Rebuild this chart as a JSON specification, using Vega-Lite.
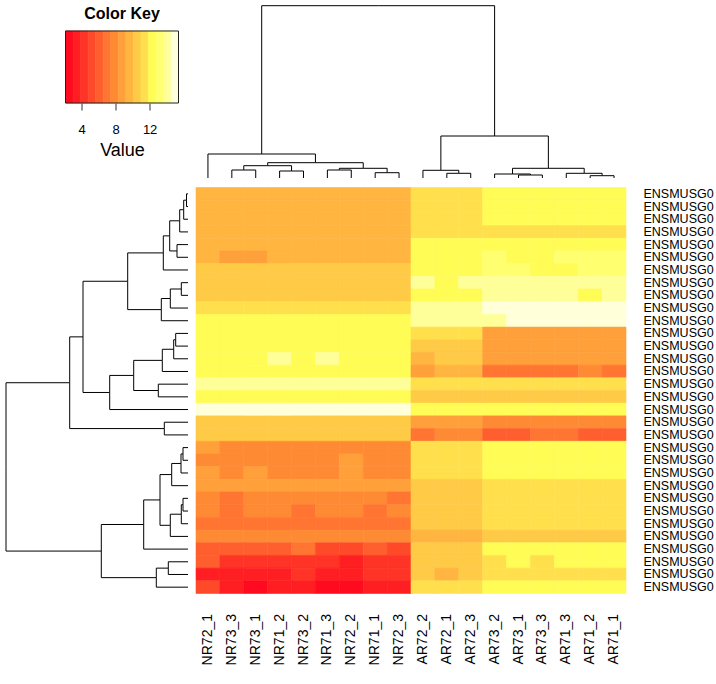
{
  "$schema": "https://vega.github.io/schema/vega-lite/v6.json",
  "padding": {"left": 5, "top": 5, "right": 0, "bottom": 0},
  "config": {
    "view": {"stroke": null},
    "font": "Liberation Sans",
    "axis": {"labelColor": "#000", "titleColor": "#000", "grid": false}
  },
  "datasets": {
    "expr": [
      {"gene":"ENSMUSG0_01","NR72_1":9.6,"NR73_3":9.6,"NR73_1":9.6,"NR71_2":9.6,"NR73_2":9.6,"NR71_3":9.6,"NR72_2":9.6,"NR71_1":9.6,"NR72_3":9.6,"AR72_2":11.4,"AR72_1":11.4,"AR72_3":11.4,"AR73_2":12.3,"AR73_1":12.3,"AR73_3":12.3,"AR71_3":12.3,"AR71_2":12.3,"AR71_1":12.3},
      {"gene":"ENSMUSG0_02","NR72_1":9.6,"NR73_3":9.6,"NR73_1":9.6,"NR71_2":9.6,"NR73_2":9.6,"NR71_3":9.6,"NR72_2":9.6,"NR71_1":9.6,"NR72_3":9.6,"AR72_2":11.4,"AR72_1":11.4,"AR72_3":11.4,"AR73_2":12.3,"AR73_1":12.3,"AR73_3":12.3,"AR71_3":12.3,"AR71_2":12.3,"AR71_1":12.3},
      {"gene":"ENSMUSG0_03","NR72_1":9.6,"NR73_3":9.6,"NR73_1":9.6,"NR71_2":9.6,"NR73_2":9.6,"NR71_3":9.6,"NR72_2":9.6,"NR71_1":9.6,"NR72_3":9.6,"AR72_2":11.4,"AR72_1":11.4,"AR72_3":11.4,"AR73_2":12.3,"AR73_1":12.3,"AR73_3":12.3,"AR71_3":12.3,"AR71_2":12.3,"AR71_1":12.3},
      {"gene":"ENSMUSG0_04","NR72_1":9.6,"NR73_3":9.6,"NR73_1":9.6,"NR71_2":9.6,"NR73_2":9.6,"NR71_3":9.6,"NR72_2":9.6,"NR71_1":9.6,"NR72_3":9.6,"AR72_2":11.4,"AR72_1":11.4,"AR72_3":11.4,"AR73_2":11.4,"AR73_1":11.4,"AR73_3":11.4,"AR71_3":11.4,"AR71_2":11.4,"AR71_1":11.4},
      {"gene":"ENSMUSG0_05","NR72_1":9.6,"NR73_3":9.6,"NR73_1":9.6,"NR71_2":9.6,"NR73_2":9.6,"NR71_3":9.6,"NR72_2":9.6,"NR71_1":9.6,"NR72_3":9.6,"AR72_2":12.3,"AR72_1":12.3,"AR72_3":12.3,"AR73_2":12.3,"AR73_1":12.3,"AR73_3":12.3,"AR71_3":12.3,"AR71_2":12.3,"AR71_1":12.3},
      {"gene":"ENSMUSG0_06","NR72_1":9.6,"NR73_3":8.8,"NR73_1":8.8,"NR71_2":9.6,"NR73_2":9.6,"NR71_3":9.6,"NR72_2":9.6,"NR71_1":9.6,"NR72_3":9.6,"AR72_2":12.3,"AR72_1":12.3,"AR72_3":12.3,"AR73_2":13.2,"AR73_1":12.3,"AR73_3":12.3,"AR71_3":13.2,"AR71_2":13.2,"AR71_1":13.2},
      {"gene":"ENSMUSG0_07","NR72_1":10.5,"NR73_3":10.5,"NR73_1":10.5,"NR71_2":10.5,"NR73_2":10.5,"NR71_3":10.5,"NR72_2":10.5,"NR71_1":10.5,"NR72_3":10.5,"AR72_2":12.3,"AR72_1":12.3,"AR72_3":12.3,"AR73_2":13.2,"AR73_1":13.2,"AR73_3":12.3,"AR71_3":12.3,"AR71_2":13.2,"AR71_1":13.2},
      {"gene":"ENSMUSG0_08","NR72_1":10.5,"NR73_3":10.5,"NR73_1":10.5,"NR71_2":10.5,"NR73_2":10.5,"NR71_3":10.5,"NR72_2":10.5,"NR71_1":10.5,"NR72_3":10.5,"AR72_2":14.1,"AR72_1":12.3,"AR72_3":14.1,"AR73_2":14.1,"AR73_1":14.1,"AR73_3":14.1,"AR71_3":14.1,"AR71_2":14.1,"AR71_1":14.1},
      {"gene":"ENSMUSG0_09","NR72_1":10.5,"NR73_3":10.5,"NR73_1":10.5,"NR71_2":10.5,"NR73_2":10.5,"NR71_3":10.5,"NR72_2":10.5,"NR71_1":10.5,"NR72_3":10.5,"AR72_2":12.3,"AR72_1":12.3,"AR72_3":12.3,"AR73_2":14.1,"AR73_1":14.1,"AR73_3":14.1,"AR71_3":14.1,"AR71_2":12.3,"AR71_1":14.1},
      {"gene":"ENSMUSG0_10","NR72_1":11.4,"NR73_3":11.4,"NR73_1":11.4,"NR71_2":11.4,"NR73_2":11.4,"NR71_3":11.4,"NR72_2":11.4,"NR71_1":11.4,"NR72_3":11.4,"AR72_2":14.1,"AR72_1":14.1,"AR72_3":14.1,"AR73_2":15.0,"AR73_1":15.0,"AR73_3":15.0,"AR71_3":15.0,"AR71_2":15.0,"AR71_1":15.0},
      {"gene":"ENSMUSG0_11","NR72_1":12.3,"NR73_3":12.3,"NR73_1":12.3,"NR71_2":12.3,"NR73_2":12.3,"NR71_3":12.3,"NR72_2":12.3,"NR71_1":12.3,"NR72_3":12.3,"AR72_2":14.1,"AR72_1":14.1,"AR72_3":14.1,"AR73_2":14.1,"AR73_1":15.0,"AR73_3":15.0,"AR71_3":15.0,"AR71_2":15.0,"AR71_1":15.0},
      {"gene":"ENSMUSG0_12","NR72_1":12.3,"NR73_3":12.3,"NR73_1":12.3,"NR71_2":12.3,"NR73_2":12.3,"NR71_3":12.3,"NR72_2":12.3,"NR71_1":12.3,"NR72_3":12.3,"AR72_2":11.4,"AR72_1":11.4,"AR72_3":11.4,"AR73_2":8.8,"AR73_1":8.8,"AR73_3":8.8,"AR71_3":8.8,"AR71_2":8.8,"AR71_1":8.8},
      {"gene":"ENSMUSG0_13","NR72_1":12.3,"NR73_3":12.3,"NR73_1":12.3,"NR71_2":12.3,"NR73_2":12.3,"NR71_3":12.3,"NR72_2":12.3,"NR71_1":12.3,"NR72_3":12.3,"AR72_2":10.5,"AR72_1":10.5,"AR72_3":10.5,"AR73_2":8.8,"AR73_1":8.8,"AR73_3":8.8,"AR71_3":8.8,"AR71_2":8.8,"AR71_1":8.8},
      {"gene":"ENSMUSG0_14","NR72_1":12.3,"NR73_3":12.3,"NR73_1":12.3,"NR71_2":14.1,"NR73_2":12.3,"NR71_3":14.1,"NR72_2":12.3,"NR71_1":12.3,"NR72_3":12.3,"AR72_2":9.6,"AR72_1":10.5,"AR72_3":10.5,"AR73_2":8.8,"AR73_1":8.8,"AR73_3":8.8,"AR71_3":8.8,"AR71_2":8.8,"AR71_1":8.8},
      {"gene":"ENSMUSG0_15","NR72_1":12.3,"NR73_3":12.3,"NR73_1":12.3,"NR71_2":12.3,"NR73_2":12.3,"NR71_3":12.3,"NR72_2":12.3,"NR71_1":12.3,"NR72_3":12.3,"AR72_2":8.8,"AR72_1":9.6,"AR72_3":9.6,"AR73_2":7.0,"AR73_1":7.0,"AR73_3":7.0,"AR71_3":7.0,"AR71_2":7.9,"AR71_1":7.0},
      {"gene":"ENSMUSG0_16","NR72_1":14.1,"NR73_3":14.1,"NR73_1":14.1,"NR71_2":14.1,"NR73_2":14.1,"NR71_3":14.1,"NR72_2":14.1,"NR71_1":14.1,"NR72_3":14.1,"AR72_2":11.4,"AR72_1":11.4,"AR72_3":11.4,"AR73_2":11.4,"AR73_1":11.4,"AR73_3":11.4,"AR71_3":11.4,"AR71_2":11.4,"AR71_1":11.4},
      {"gene":"ENSMUSG0_17","NR72_1":12.3,"NR73_3":12.3,"NR73_1":12.3,"NR71_2":12.3,"NR73_2":12.3,"NR71_3":12.3,"NR72_2":12.3,"NR71_1":12.3,"NR72_3":12.3,"AR72_2":10.5,"AR72_1":10.5,"AR72_3":10.5,"AR73_2":10.5,"AR73_1":10.5,"AR73_3":10.5,"AR71_3":10.5,"AR71_2":10.5,"AR71_1":10.5},
      {"gene":"ENSMUSG0_18","NR72_1":15.0,"NR73_3":15.0,"NR73_1":15.0,"NR71_2":15.0,"NR73_2":15.0,"NR71_3":15.0,"NR72_2":15.0,"NR71_1":15.0,"NR72_3":15.0,"AR72_2":12.3,"AR72_1":12.3,"AR72_3":12.3,"AR73_2":12.3,"AR73_1":12.3,"AR73_3":12.3,"AR71_3":12.3,"AR71_2":12.3,"AR71_1":12.3},
      {"gene":"ENSMUSG0_19","NR72_1":10.5,"NR73_3":10.5,"NR73_1":10.5,"NR71_2":10.5,"NR73_2":10.5,"NR71_3":10.5,"NR72_2":10.5,"NR71_1":10.5,"NR72_3":10.5,"AR72_2":8.8,"AR72_1":8.8,"AR72_3":8.8,"AR73_2":7.9,"AR73_1":7.9,"AR73_3":7.9,"AR71_3":7.9,"AR71_2":7.9,"AR71_1":7.9},
      {"gene":"ENSMUSG0_20","NR72_1":10.5,"NR73_3":10.5,"NR73_1":10.5,"NR71_2":10.5,"NR73_2":10.5,"NR71_3":10.5,"NR72_2":10.5,"NR71_1":10.5,"NR72_3":10.5,"AR72_2":7.0,"AR72_1":7.9,"AR72_3":7.9,"AR73_2":6.1,"AR73_1":6.1,"AR73_3":7.0,"AR71_3":7.0,"AR71_2":6.1,"AR71_1":6.1},
      {"gene":"ENSMUSG0_21","NR72_1":8.8,"NR73_3":7.9,"NR73_1":7.9,"NR71_2":7.9,"NR73_2":7.9,"NR71_3":7.9,"NR72_2":7.9,"NR71_1":7.9,"NR72_3":7.9,"AR72_2":11.4,"AR72_1":11.4,"AR72_3":11.4,"AR73_2":12.3,"AR73_1":12.3,"AR73_3":12.3,"AR71_3":12.3,"AR71_2":12.3,"AR71_1":12.3},
      {"gene":"ENSMUSG0_22","NR72_1":7.9,"NR73_3":7.9,"NR73_1":7.9,"NR71_2":7.9,"NR73_2":7.9,"NR71_3":7.9,"NR72_2":8.8,"NR71_1":7.9,"NR72_3":7.9,"AR72_2":11.4,"AR72_1":11.4,"AR72_3":11.4,"AR73_2":12.3,"AR73_1":12.3,"AR73_3":12.3,"AR71_3":12.3,"AR71_2":12.3,"AR71_1":12.3},
      {"gene":"ENSMUSG0_23","NR72_1":8.8,"NR73_3":7.9,"NR73_1":8.8,"NR71_2":7.9,"NR73_2":7.9,"NR71_3":7.9,"NR72_2":8.8,"NR71_1":7.9,"NR72_3":7.9,"AR72_2":11.4,"AR72_1":11.4,"AR72_3":11.4,"AR73_2":12.3,"AR73_1":12.3,"AR73_3":12.3,"AR71_3":12.3,"AR71_2":12.3,"AR71_1":12.3},
      {"gene":"ENSMUSG0_24","NR72_1":8.8,"NR73_3":8.8,"NR73_1":8.8,"NR71_2":8.8,"NR73_2":8.8,"NR71_3":8.8,"NR72_2":8.8,"NR71_1":8.8,"NR72_3":8.8,"AR72_2":10.5,"AR72_1":10.5,"AR72_3":10.5,"AR73_2":11.4,"AR73_1":11.4,"AR73_3":11.4,"AR71_3":11.4,"AR71_2":11.4,"AR71_1":11.4},
      {"gene":"ENSMUSG0_25","NR72_1":7.9,"NR73_3":7.0,"NR73_1":7.9,"NR71_2":7.9,"NR73_2":7.9,"NR71_3":7.9,"NR72_2":7.9,"NR71_1":7.9,"NR72_3":7.0,"AR72_2":10.5,"AR72_1":10.5,"AR72_3":10.5,"AR73_2":11.4,"AR73_1":11.4,"AR73_3":11.4,"AR71_3":11.4,"AR71_2":11.4,"AR71_1":11.4},
      {"gene":"ENSMUSG0_26","NR72_1":7.9,"NR73_3":7.0,"NR73_1":7.9,"NR71_2":7.9,"NR73_2":7.0,"NR71_3":7.9,"NR72_2":7.9,"NR71_1":7.0,"NR72_3":7.9,"AR72_2":10.5,"AR72_1":10.5,"AR72_3":10.5,"AR73_2":11.4,"AR73_1":11.4,"AR73_3":11.4,"AR71_3":11.4,"AR71_2":11.4,"AR71_1":11.4},
      {"gene":"ENSMUSG0_27","NR72_1":7.0,"NR73_3":7.0,"NR73_1":7.0,"NR71_2":7.0,"NR73_2":7.0,"NR71_3":7.0,"NR72_2":7.0,"NR71_1":7.0,"NR72_3":7.0,"AR72_2":10.5,"AR72_1":10.5,"AR72_3":10.5,"AR73_2":11.4,"AR73_1":11.4,"AR73_3":11.4,"AR71_3":11.4,"AR71_2":11.4,"AR71_1":11.4},
      {"gene":"ENSMUSG0_28","NR72_1":7.9,"NR73_3":7.9,"NR73_1":7.9,"NR71_2":7.9,"NR73_2":7.9,"NR71_3":7.9,"NR72_2":7.9,"NR71_1":7.9,"NR72_3":7.9,"AR72_2":9.6,"AR72_1":9.6,"AR72_3":9.6,"AR73_2":10.5,"AR73_1":10.5,"AR73_3":10.5,"AR71_3":10.5,"AR71_2":10.5,"AR71_1":10.5},
      {"gene":"ENSMUSG0_29","NR72_1":6.1,"NR73_3":6.1,"NR73_1":6.1,"NR71_2":6.1,"NR73_2":7.0,"NR71_3":5.2,"NR72_2":5.2,"NR71_1":6.1,"NR72_3":5.2,"AR72_2":10.5,"AR72_1":10.5,"AR72_3":10.5,"AR73_2":12.3,"AR73_1":12.3,"AR73_3":12.3,"AR71_3":12.3,"AR71_2":12.3,"AR71_1":12.3},
      {"gene":"ENSMUSG0_30","NR72_1":6.1,"NR73_3":4.3,"NR73_1":4.3,"NR71_2":4.3,"NR73_2":4.3,"NR71_3":4.3,"NR72_2":3.4,"NR71_1":4.3,"NR72_3":4.3,"AR72_2":10.5,"AR72_1":10.5,"AR72_3":10.5,"AR73_2":11.4,"AR73_1":12.3,"AR73_3":11.4,"AR71_3":12.3,"AR71_2":12.3,"AR71_1":12.3},
      {"gene":"ENSMUSG0_31","NR72_1":3.4,"NR73_3":3.4,"NR73_1":3.4,"NR71_2":3.4,"NR73_2":4.3,"NR71_3":3.4,"NR72_2":3.4,"NR71_1":4.3,"NR72_3":4.3,"AR72_2":10.5,"AR72_1":9.6,"AR72_3":10.5,"AR73_2":11.4,"AR73_1":11.4,"AR73_3":11.4,"AR71_3":11.4,"AR71_2":11.4,"AR71_1":11.4},
      {"gene":"ENSMUSG0_32","NR72_1":5.2,"NR73_3":3.4,"NR73_1":2.5,"NR71_2":3.4,"NR73_2":3.4,"NR71_3":2.5,"NR72_2":2.5,"NR71_1":3.4,"NR72_3":3.4,"AR72_2":11.4,"AR72_1":11.4,"AR72_3":11.4,"AR73_2":12.3,"AR73_1":12.3,"AR73_3":12.3,"AR71_3":12.3,"AR71_2":12.3,"AR71_1":12.3}
    ],
    "rowLinks": [
      {"pos":0.5,"h":0,"ppos":1.0,"ph":1.5},
      {"pos":1.5,"h":0,"ppos":1.0,"ph":1.5},
      {"pos":2.5,"h":0,"ppos":1.75,"ph":4.3},
      {"pos":3.5,"h":0,"ppos":2.625,"ph":8.3},
      {"pos":4.5,"h":0,"ppos":5.0,"ph":11},
      {"pos":5.5,"h":0,"ppos":5.0,"ph":11},
      {"pos":6.5,"h":0,"ppos":5.156,"ph":24.7},
      {"pos":7.5,"h":0,"ppos":8.0,"ph":6.7},
      {"pos":8.5,"h":0,"ppos":8.0,"ph":6.7},
      {"pos":9.5,"h":0,"ppos":8.75,"ph":17.7},
      {"pos":10.5,"h":0,"ppos":9.625,"ph":26.7},
      {"pos":11.5,"h":0,"ppos":12.0,"ph":12.3},
      {"pos":12.5,"h":0,"ppos":12.0,"ph":12.3},
      {"pos":13.5,"h":0,"ppos":12.75,"ph":14.3},
      {"pos":14.5,"h":0,"ppos":13.625,"ph":25.7},
      {"pos":15.5,"h":0,"ppos":16.0,"ph":29.7},
      {"pos":16.5,"h":0,"ppos":16.0,"ph":29.7},
      {"pos":17.5,"h":0,"ppos":16.156,"ph":78.3},
      {"pos":18.5,"h":0,"ppos":19.0,"ph":23.7},
      {"pos":19.5,"h":0,"ppos":19.0,"ph":23.7},
      {"pos":20.5,"h":0,"ppos":21.0,"ph":5},
      {"pos":21.5,"h":0,"ppos":21.0,"ph":5},
      {"pos":22.5,"h":0,"ppos":21.75,"ph":7},
      {"pos":23.5,"h":0,"ppos":22.625,"ph":16.3},
      {"pos":24.5,"h":0,"ppos":25.0,"ph":5},
      {"pos":25.5,"h":0,"ppos":25.0,"ph":5},
      {"pos":26.5,"h":0,"ppos":25.75,"ph":6.7},
      {"pos":27.5,"h":0,"ppos":26.625,"ph":17.7},
      {"pos":28.5,"h":0,"ppos":26.5625,"ph":44.3},
      {"pos":29.5,"h":0,"ppos":30.0,"ph":19.7},
      {"pos":30.5,"h":0,"ppos":30.0,"ph":19.7},
      {"pos":31.5,"h":0,"ppos":30.75,"ph":31.7},
      {"pos":1.0,"h":1.5,"ppos":1.75,"ph":4.3},
      {"pos":1.75,"h":4.3,"ppos":2.625,"ph":8.3},
      {"pos":2.625,"h":8.3,"ppos":3.8125,"ph":18.3},
      {"pos":5.0,"h":11,"ppos":3.8125,"ph":18.3},
      {"pos":3.8125,"h":18.3,"ppos":5.156,"ph":24.7},
      {"pos":5.156,"h":24.7,"ppos":7.39,"ph":60.3},
      {"pos":8.0,"h":6.7,"ppos":8.75,"ph":17.7},
      {"pos":8.75,"h":17.7,"ppos":9.625,"ph":26.7},
      {"pos":9.625,"h":26.7,"ppos":7.39,"ph":60.3},
      {"pos":7.39,"h":60.3,"ppos":11.773,"ph":105},
      {"pos":12.0,"h":12.3,"ppos":12.75,"ph":14.3},
      {"pos":12.75,"h":14.3,"ppos":13.625,"ph":25.7},
      {"pos":13.625,"h":25.7,"ppos":14.8125,"ph":54.3},
      {"pos":16.0,"h":29.7,"ppos":14.8125,"ph":54.3},
      {"pos":14.8125,"h":54.3,"ppos":16.156,"ph":78.3},
      {"pos":16.156,"h":78.3,"ppos":11.773,"ph":105},
      {"pos":11.773,"h":105,"ppos":15.387,"ph":118.3},
      {"pos":19.0,"h":23.7,"ppos":15.387,"ph":118.3},
      {"pos":15.387,"h":118.3,"ppos":22.02,"ph":182},
      {"pos":21.0,"h":5,"ppos":21.75,"ph":7},
      {"pos":21.75,"h":7,"ppos":22.625,"ph":16.3},
      {"pos":22.625,"h":16.3,"ppos":24.625,"ph":28},
      {"pos":25.0,"h":5,"ppos":25.75,"ph":6.7},
      {"pos":25.75,"h":6.7,"ppos":26.625,"ph":17.7},
      {"pos":26.625,"h":17.7,"ppos":24.625,"ph":28},
      {"pos":24.625,"h":28,"ppos":26.5625,"ph":44.3},
      {"pos":26.5625,"h":44.3,"ppos":28.656,"ph":86.7},
      {"pos":30.0,"h":19.7,"ppos":30.75,"ph":31.7},
      {"pos":30.75,"h":31.7,"ppos":28.656,"ph":86.7},
      {"pos":28.656,"h":86.7,"ppos":22.02,"ph":182}
    ],
    "colLinks": [
      {"pos":0.5,"h":0,"ppos":2.75,"ph":24},
      {"pos":1.5,"h":0,"ppos":2.0,"ph":8},
      {"pos":2.5,"h":0,"ppos":2.0,"ph":8},
      {"pos":3.5,"h":0,"ppos":4.0,"ph":7},
      {"pos":4.5,"h":0,"ppos":4.0,"ph":7},
      {"pos":5.5,"h":0,"ppos":6.0,"ph":8},
      {"pos":6.5,"h":0,"ppos":6.0,"ph":8},
      {"pos":7.5,"h":0,"ppos":8.0,"ph":5.3},
      {"pos":8.5,"h":0,"ppos":8.0,"ph":5.3},
      {"pos":9.5,"h":0,"ppos":10.25,"ph":7.7},
      {"pos":10.5,"h":0,"ppos":11.0,"ph":4.7},
      {"pos":11.5,"h":0,"ppos":11.0,"ph":4.7},
      {"pos":12.5,"h":0,"ppos":13.25,"ph":4},
      {"pos":13.5,"h":0,"ppos":14.0,"ph":3},
      {"pos":14.5,"h":0,"ppos":14.0,"ph":3},
      {"pos":15.5,"h":0,"ppos":16.25,"ph":4.7},
      {"pos":16.5,"h":0,"ppos":17.0,"ph":2.3},
      {"pos":17.5,"h":0,"ppos":17.0,"ph":2.3},
      {"pos":2.0,"h":8,"ppos":3.0,"ph":12.3},
      {"pos":4.0,"h":7,"ppos":3.0,"ph":12.3},
      {"pos":6.0,"h":8,"ppos":7.0,"ph":9.7},
      {"pos":8.0,"h":5.3,"ppos":7.0,"ph":9.7},
      {"pos":3.0,"h":12.3,"ppos":5.0,"ph":15.3},
      {"pos":7.0,"h":9.7,"ppos":5.0,"ph":15.3},
      {"pos":5.0,"h":15.3,"ppos":2.75,"ph":24},
      {"pos":2.75,"h":24,"ppos":7.625,"ph":172.3},
      {"pos":11.0,"h":4.7,"ppos":10.25,"ph":7.7},
      {"pos":14.0,"h":3,"ppos":13.25,"ph":4},
      {"pos":17.0,"h":2.3,"ppos":16.25,"ph":4.7},
      {"pos":13.25,"h":4,"ppos":14.75,"ph":9.7},
      {"pos":16.25,"h":4.7,"ppos":14.75,"ph":9.7},
      {"pos":10.25,"h":7.7,"ppos":12.5,"ph":42},
      {"pos":14.75,"h":9.7,"ppos":12.5,"ph":42},
      {"pos":12.5,"h":42,"ppos":7.625,"ph":172.3}
    ],
    "key": [
      {"lo":2.1,"hi":2.99,"value":2.5},
      {"lo":2.99,"hi":3.87,"value":3.4},
      {"lo":3.87,"hi":4.76,"value":4.3},
      {"lo":4.76,"hi":5.65,"value":5.2},
      {"lo":5.65,"hi":6.53,"value":6.1},
      {"lo":6.53,"hi":7.42,"value":7.0},
      {"lo":7.42,"hi":8.31,"value":7.9},
      {"lo":8.31,"hi":9.19,"value":8.8},
      {"lo":9.19,"hi":10.08,"value":9.6},
      {"lo":10.08,"hi":10.97,"value":10.5},
      {"lo":10.97,"hi":11.85,"value":11.4},
      {"lo":11.85,"hi":12.74,"value":12.3},
      {"lo":12.74,"hi":13.63,"value":13.2},
      {"lo":13.63,"hi":14.51,"value":14.1},
      {"lo":14.51,"hi":15.4,"value":15.0}
    ]
  },
  "spacing": 7.5,
  "vconcat": [
    {
      "spacing": 16.5,
      "hconcat": [
        {
          "width": 42, "height": 10,
          "data": {"values": []},
          "mark": "point",
          "encoding": {}
        },
        {
          "title": {"text": "Color Key", "fontSize": 16, "fontWeight": "bold", "anchor": "middle", "offset": -17, "color": "#000"},
          "width": 113, "height": 98,
          "layer": [
            {
              "data": {"name": "key"},
              "mark": {"type": "rect", "strokeWidth": 0.6},
              "encoding": {
                "x": {"field": "lo", "type": "quantitative",
                      "scale": {"domain": [2.1, 15.4], "nice": false, "zero": false},
                      "axis": {"values": [4, 6, 8, 10, 12, 14], "labelExpr": "datum.value % 4 == 0 ? datum.label : ''",
                               "title": "Value", "titleFontSize": 18, "titleFontWeight": "normal", "titlePadding": 5,
                               "labelFontSize": 13, "labelPadding": 13, "tickSize": 7, "tickColor": "#333",
                               "domain": false, "labelFlush": false}},
                "x2": {"field": "hi"},
                "y": {"datum": 0, "type": "quantitative", "scale": {"domain": [0, 1.3611], "nice": false, "zero": false}, "axis": null},
                "y2": {"datum": 1},
                "color": {"field": "value", "type": "quantitative",
                          "scale": {"type": "threshold",
                                    "domain": [2.99, 3.87, 4.76, 5.65, 6.53, 7.42, 8.31, 9.19, 10.08, 10.97, 11.85, 12.74, 13.63, 14.51],
                                    "range": ["#FF0A1E", "#FF1E22", "#FF3326", "#FF4A2A", "#FF5F2E", "#FF7531", "#FF8A34", "#FFA03A", "#FFB540", "#FFCA46", "#FFE04C", "#FFFC55", "#FFFF70", "#FFFF99", "#FFFFDA"]},
                          "legend": null},
                "stroke": {"field": "value", "type": "quantitative",
                          "scale": {"type": "threshold",
                                    "domain": [2.99, 3.87, 4.76, 5.65, 6.53, 7.42, 8.31, 9.19, 10.08, 10.97, 11.85, 12.74, 13.63, 14.51],
                                    "range": ["#FF0A1E", "#FF1E22", "#FF3326", "#FF4A2A", "#FF5F2E", "#FF7531", "#FF8A34", "#FFA03A", "#FFB540", "#FFCA46", "#FFE04C", "#FFFC55", "#FFFF70", "#FFFF99", "#FFFFDA"]},
                          "legend": null}
              }
            },
            {
              "data": {"values": [{}]},
              "mark": {"type": "rect", "filled": false, "color": "#222", "strokeWidth": 1},
              "encoding": {
                "x": {"datum": 2.1, "type": "quantitative"},
                "x2": {"datum": 15.4},
                "y": {"datum": 0, "type": "quantitative"},
                "y2": {"datum": 1}
              }
            }
          ]
        },
        {
          "width": 430, "height": 173,
          "data": {"name": "colLinks"},
          "layer": [
            {
              "mark": {"type": "rule", "color": "#000", "strokeWidth": 1},
              "encoding": {
                "x": {"field": "pos", "type": "quantitative", "scale": {"domain": [0, 18], "nice": false, "zero": false}, "axis": null},
                "y": {"field": "h", "type": "quantitative", "scale": {"domain": [0, 173], "nice": false}, "axis": null},
                "y2": {"field": "ph"}
              }
            },
            {
              "mark": {"type": "rule", "color": "#000", "strokeWidth": 1},
              "encoding": {
                "x": {"field": "pos", "type": "quantitative", "axis": null},
                "x2": {"field": "ppos"},
                "y": {"field": "ph", "type": "quantitative", "axis": null}
              }
            }
          ]
        }
      ]
    },
    {
      "spacing": 6,
      "hconcat": [
        {
          "width": 182, "height": 406,
          "data": {"name": "rowLinks"},
          "layer": [
            {
              "mark": {"type": "rule", "color": "#000", "strokeWidth": 1},
              "encoding": {
                "y": {"field": "pos", "type": "quantitative", "scale": {"domain": [0, 32], "reverse": true, "nice": false, "zero": false}, "axis": null},
                "x": {"field": "h", "type": "quantitative", "scale": {"domain": [0, 182], "reverse": true, "nice": false}, "axis": null},
                "x2": {"field": "ph"}
              }
            },
            {
              "mark": {"type": "rule", "color": "#000", "strokeWidth": 1},
              "encoding": {
                "y": {"field": "pos", "type": "quantitative", "axis": null},
                "y2": {"field": "ppos"},
                "x": {"field": "ph", "type": "quantitative", "axis": null}
              }
            }
          ]
        },
        {
          "width": 430, "height": 406,
          "data": {"name": "expr"},
          "transform": [
            {"fold": ["NR72_1","NR73_3","NR73_1","NR71_2","NR73_2","NR71_3","NR72_2","NR71_1","NR72_3","AR72_2","AR72_1","AR72_3","AR73_2","AR73_1","AR73_3","AR71_3","AR71_2","AR71_1"], "as": ["sample", "value"]}
          ],
          "mark": {"type": "rect", "strokeWidth": 0.6},
          "encoding": {
            "x": {"field": "sample", "type": "nominal",
                  "sort": ["NR72_1","NR73_3","NR73_1","NR71_2","NR73_2","NR71_3","NR72_2","NR71_1","NR72_3","AR72_2","AR72_1","AR72_3","AR73_2","AR73_1","AR73_3","AR71_3","AR71_2","AR71_1"],
                  "scale": {"paddingInner": 0, "paddingOuter": 0},
                  "axis": {"orient": "bottom", "title": null, "labelAngle": -90, "ticks": false, "domain": false, "labelPadding": 20, "labelFontSize": 14}},
            "y": {"field": "gene", "type": "nominal", "sort": "ascending",
                  "scale": {"paddingInner": 0, "paddingOuter": 0},
                  "axis": {"orient": "right", "title": null, "ticks": false, "domain": false, "labelPadding": 17, "labelFontSize": 12.5, "labelExpr": "slice(datum.label, 0, 8)"}},
            "color": {"field": "value", "type": "quantitative",
                      "scale": {"type": "threshold",
                                "domain": [2.99, 3.87, 4.76, 5.65, 6.53, 7.42, 8.31, 9.19, 10.08, 10.97, 11.85, 12.74, 13.63, 14.51],
                                "range": ["#FF0A1E", "#FF1E22", "#FF3326", "#FF4A2A", "#FF5F2E", "#FF7531", "#FF8A34", "#FFA03A", "#FFB540", "#FFCA46", "#FFE04C", "#FFFC55", "#FFFF70", "#FFFF99", "#FFFFDA"]},
                      "legend": null},
            "stroke": {"field": "value", "type": "quantitative",
                      "scale": {"type": "threshold",
                                "domain": [2.99, 3.87, 4.76, 5.65, 6.53, 7.42, 8.31, 9.19, 10.08, 10.97, 11.85, 12.74, 13.63, 14.51],
                                "range": ["#FF0A1E", "#FF1E22", "#FF3326", "#FF4A2A", "#FF5F2E", "#FF7531", "#FF8A34", "#FFA03A", "#FFB540", "#FFCA46", "#FFE04C", "#FFFC55", "#FFFF70", "#FFFF99", "#FFFFDA"]},
                      "legend": null}
          }
        }
      ]
    }
  ]
}
